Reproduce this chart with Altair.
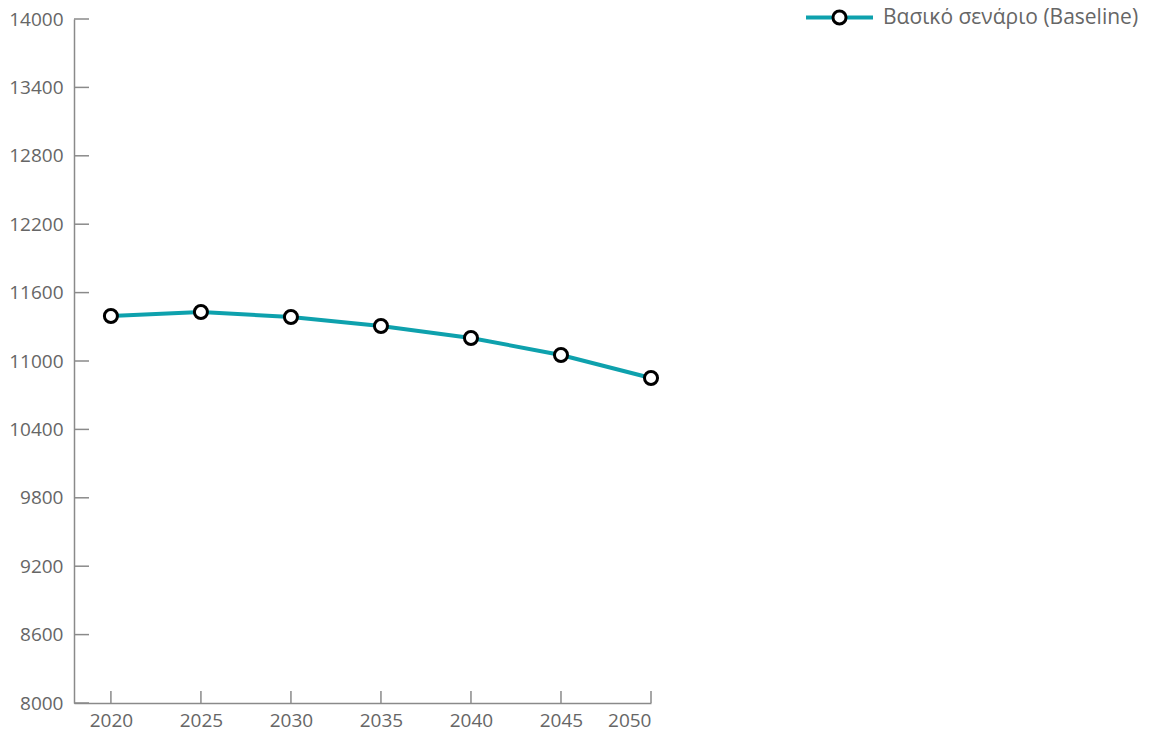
import altair as alt
import pandas as pd

# ---- data ----
years = [2020, 2025, 2030, 2035, 2040, 2045, 2050]
values = [11395, 11430, 11386, 11307, 11202, 11053, 10851]
series_name = "Βασικό σενάριο (Baseline)"
y_ticks = [8000, 8600, 9200, 9800, 10400, 11000, 11600, 12200, 12800, 13400, 14000]
x_ticks = [2020, 2025, 2030, 2035, 2040, 2045, 2050]

df = pd.DataFrame({
    "year": years,
    "value": values,
    "series": [series_name] * len(years),
    "marker": [series_name] * len(years),
})
df_yt = pd.DataFrame({"value": y_ticks})
df_xt = pd.DataFrame({"year": x_ticks})

FONT = "Open Sans"
TEAL = "#0ea1ad"
TEXT = "#666666"
AXIS = "#8a8a8a"
W, H = 577, 684

xscale = alt.Scale(domain=[2017.95, 2050], nice=False, zero=False)
yscale = alt.Scale(domain=[8000, 14000], nice=False, zero=False)

xaxis = alt.Axis(
    orient="bottom", values=x_ticks, format="d", title=None, ticks=False,
    tickSize=0, grid=False, domainColor=AXIS, domainWidth=1.5,
    labelPadding=8, labelFontSize=19, labelColor=TEXT, labelFont=FONT)
yaxis = alt.Axis(
    orient="left", values=y_ticks, format="d", title=None, ticks=False,
    tickSize=0, grid=False, domainColor=AXIS, domainWidth=1.5,
    labelPadding=11, labelFontSize=19, labelColor=TEXT, labelFont=FONT)

line = alt.Chart(df).mark_line(strokeWidth=4, color=TEAL).encode(
    x=alt.X("year:Q", scale=xscale, axis=xaxis),
    y=alt.Y("value:Q", scale=yscale, axis=yaxis),
    color=alt.Color("series:N", scale=alt.Scale(range=[TEAL]), legend=alt.Legend(
        orient="none", legendX=730, legendY=-37, title=None, padding=0,
        symbolType="stroke", symbolSize=4489, symbolStrokeWidth=4,
        labelFontSize=21, labelColor=TEXT, labelFont=FONT, labelOffset=8,
        labelLimit=0, zindex=1)),
)

# inward tick marks on the y axis (at the left edge) and on the x axis (at the bottom)
ytick_rules = alt.Chart(df_yt).mark_rule(color=AXIS, strokeWidth=1.5).encode(
    y=alt.Y("value:Q", scale=yscale, axis=yaxis),
    x=alt.value(0), x2=alt.value(15),
)
xtick_rules = alt.Chart(df_xt).mark_rule(color=AXIS, strokeWidth=1.5).encode(
    x=alt.X("year:Q", scale=xscale, axis=xaxis),
    y=alt.value(H), y2=alt.value(H - 12),
)

points = alt.Chart(df).mark_point(
    filled=False, fill="white", strokeWidth=3, size=170, opacity=1,
    fillOpacity=1, strokeOpacity=1, shape="circle",
).encode(
    x=alt.X("year:Q", scale=xscale, axis=xaxis),
    y=alt.Y("value:Q", scale=yscale, axis=yaxis),
    stroke=alt.Stroke("marker:N", scale=alt.Scale(range=["black"]), legend=alt.Legend(
        orient="none", legendX=757, legendY=-10, title=None, padding=0,
        symbolSize=170, labelExpr="''", symbolType="circle",
        symbolFillColor="white", symbolStrokeWidth=3, symbolOpacity=1, zindex=2)),
)

chart = alt.layer(line, ytick_rules, xtick_rules, points).resolve_legend(
    color="independent", stroke="independent"
).properties(
    width=W, height=H,
    autosize=alt.AutoSizeParams(type="none"),
    padding={"left": 66, "top": 11, "right": 492, "bottom": 28},
    background="white",
).configure_view(stroke=None)

chart.save("out.html", embed_options={"renderer": "svg", "actions": False})
